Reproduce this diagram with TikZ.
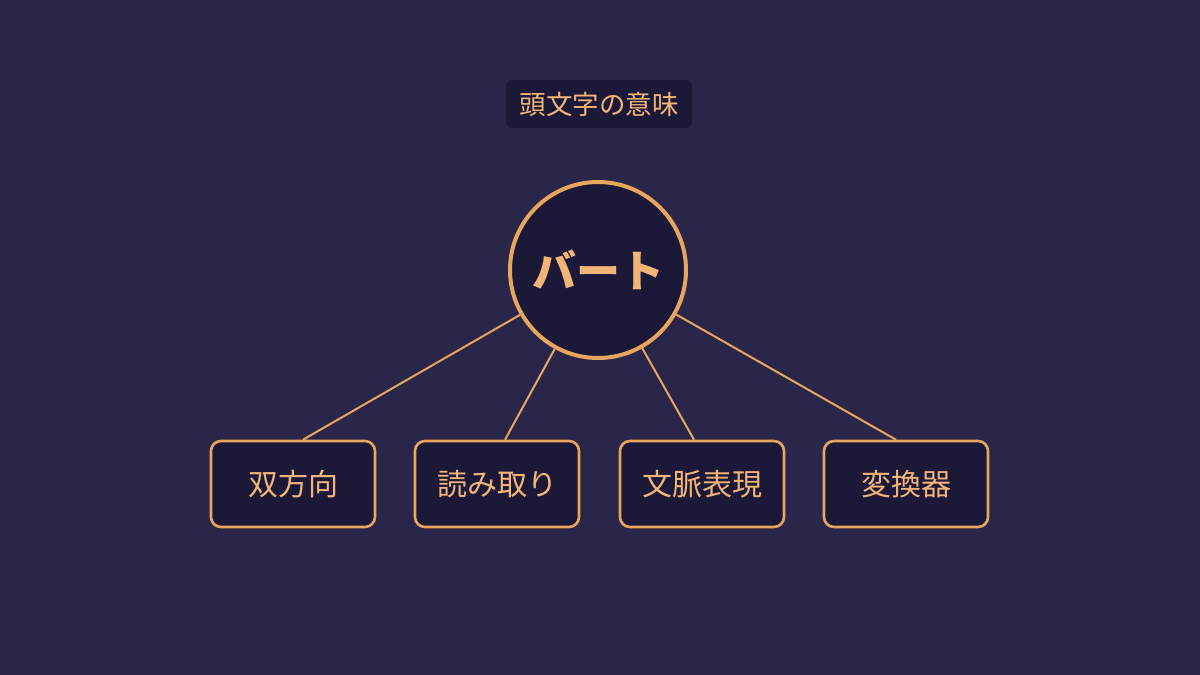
\documentclass[tikz,border=0pt]{standalone}
\usepackage{fontspec}
\setmainfont{Noto Sans CJK JP}
\usetikzlibrary{positioning}
\definecolor{bgcol}{HTML}{2A2649}
\definecolor{panel}{HTML}{1C1838}
\definecolor{accent}{HTML}{E8A55E}
\definecolor{labelcol}{HTML}{F2B577}
\tikzset{
  termbox/.style = {draw = accent, line width = 2.6pt, fill = panel, rounded corners = 10pt,
    minimum width = 164pt, minimum height = 86pt, text = labelcol,
    font = \fontsize{30}{36}\selectfont},
  link/.style = {draw = accent, line width = 2pt}
}

\begin{document}
\begin{tikzpicture}[x = 1pt, y = -1pt]
            \fill [bgcol] (0, 0) rectangle (1200, 675);
            \useasboundingbox (0, 0) rectangle (1200, 675);
            \node [fill = panel, rounded corners = 6pt, minimum width = 186pt, minimum height = 48pt,
              text = labelcol, font = \fontsize{26.5}{30}\selectfont] (title) at (599, 104) {頭文字の意味};
            \node [circle, draw = accent, line width = 4pt, fill = panel, minimum size = 176pt,
              text = labelcol, font = \bfseries\fontsize{44}{50}\selectfont] (bart) at (598, 270) {バート};
            \node [termbox] (bidir) at (293, 484) {双方向};
            \node [termbox] (read) at (497, 484) {読み取り};
            \node [termbox] (ctx) at (702, 484) {文脈表現};
            \node [termbox] (trans) at (906, 484) {変換器};
            % connectors
            \draw [link] (bart) -- ([xshift = 10pt] bidir.north);
            \draw [link] (bart) -- ([xshift = 8pt] read.north);
            \draw [link] (bart) -- ([xshift = -8pt] ctx.north);
            \draw [link] (bart) -- ([xshift = -10pt] trans.north);
        \end{tikzpicture}
\end{document}
